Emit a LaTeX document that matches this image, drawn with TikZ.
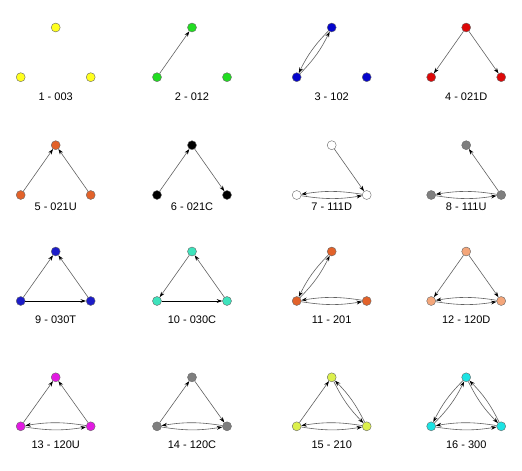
\documentclass[tikz,border=0pt]{standalone}
\usepackage{fontspec}
\setmainfont{Liberation Sans}
\usetikzlibrary{arrows.meta}

\definecolor{yellowv}{HTML}{FFFF1E}
\definecolor{greenv}{HTML}{22DD22}
\definecolor{bluev}{HTML}{0505CC}
\definecolor{redv}{HTML}{DD0808}
\definecolor{orangev}{HTML}{E2622A}
\definecolor{grayv}{HTML}{7F7F7F}
\definecolor{navyv}{HTML}{1C1CC8}
\definecolor{aquav}{HTML}{3EE3BC}
\definecolor{salmonv}{HTML}{F4A67A}
\definecolor{magentav}{HTML}{E21AE2}
\definecolor{limev}{HTML}{DCF04C}
\definecolor{cyanv}{HTML}{1CE3E3}

\begin{document}
\begin{tikzpicture}[x=1pt,y=-1pt]
    \tikzstyle{vert} = [circle, draw=black!60, line width=0.4pt, inner sep=0pt, minimum size=9pt]
    \tikzstyle{line} = [-{Stealth[length=5.5pt,width=3.8pt,color=black]}, draw=black!62, line width=0.6pt]
    \tikzstyle{pair} = [line, bend right=9]
    \tikzstyle{base} = [-{Stealth[length=5.5pt,width=3.8pt]}, draw=black, line width=0.8pt]
    \tikzstyle{caption} = [font=\fontsize{11}{13}\selectfont]

    \useasboundingbox (0,0) rectangle (522,471);

    % first row
    \node(top1) [vert, fill=yellowv] at (55.7,27.5) {};
    \node(left1) [vert, fill=yellowv] at (20.7,77.2) {};
    \node(right1) [vert, fill=yellowv] at (90.7,77.2) {};
    \node(name1) [caption] at (55.7,96.8) {1 - 003};

    \node(top2) [vert, fill=greenv] at (192,27.5) {};
    \node(left2) [vert, fill=greenv] at (157,77.2) {};
    \node(right2) [vert, fill=greenv] at (227,77.2) {};
    \node(name2) [caption] at (192,96.8) {2 - 012};
    \draw[line] (left2) -- (top2);

    \node(top3) [vert, fill=bluev] at (331.7,27.5) {};
    \node(left3) [vert, fill=bluev] at (296.7,77.2) {};
    \node(right3) [vert, fill=bluev] at (366.7,77.2) {};
    \node(name3) [caption] at (331.7,96.8) {3 - 102};
    \draw[pair] (left3) to (top3);
    \draw[pair] (top3) to (left3);

    \node(top4) [vert, fill=redv] at (466.2,27.5) {};
    \node(left4) [vert, fill=redv] at (431.2,77.2) {};
    \node(right4) [vert, fill=redv] at (501.2,77.2) {};
    \node(name4) [caption] at (466.2,96.8) {4 - 021D};
    \draw[line] (top4) -- (left4);
    \draw[line] (top4) -- (right4);

    % second row
    \node(top5) [vert, fill=orangev] at (55.7,145.2) {};
    \node(left5) [vert, fill=orangev] at (20.7,195) {};
    \node(right5) [vert, fill=orangev] at (90.7,195) {};
    \node(name5) [caption] at (55.7,207.2) {5 - 021U};
    \draw[line] (left5) -- (top5);
    \draw[line] (right5) -- (top5);

    \node(top6) [vert, fill=black] at (192,145.2) {};
    \node(left6) [vert, fill=black] at (157,195) {};
    \node(right6) [vert, fill=black] at (227,195) {};
    \node(name6) [caption] at (192,207.2) {6 - 021C};
    \draw[line] (left6) -- (top6);
    \draw[line] (top6) -- (right6);

    \node(top7) [vert, fill=white] at (331.7,145.2) {};
    \node(left7) [vert, fill=white] at (296.7,195) {};
    \node(right7) [vert, fill=white] at (366.7,195) {};
    \node(name7) [caption] at (331.7,207.2) {7 - 111D};
    \draw[line] (top7) -- (right7);
    \draw[pair] (left7) to (right7);
    \draw[pair] (right7) to (left7);

    \node(top8) [vert, fill=grayv] at (466.2,145.2) {};
    \node(left8) [vert, fill=grayv] at (431.2,195) {};
    \node(right8) [vert, fill=grayv] at (501.2,195) {};
    \node(name8) [caption] at (466.2,207.2) {8 - 111U};
    \draw[line] (right8) -- (top8);
    \draw[pair] (left8) to (right8);
    \draw[pair] (right8) to (left8);

    % third row
    \node(top9) [vert, fill=navyv] at (55.7,251.5) {};
    \node(left9) [vert, fill=navyv] at (20.7,301) {};
    \node(right9) [vert, fill=navyv] at (90.7,301) {};
    \node(name9) [caption] at (55.7,320) {9 - 030T};
    \draw[line] (left9) -- (top9);
    \draw[line] (right9) -- (top9);
    \draw[base] (left9) -- (right9);

    \node(top10) [vert, fill=aquav] at (192,251.5) {};
    \node(left10) [vert, fill=aquav] at (157,301) {};
    \node(right10) [vert, fill=aquav] at (227,301) {};
    \node(name10) [caption] at (192,320) {10 - 030C};
    \draw[line] (top10) -- (left10);
    \draw[base] (left10) -- (right10);
    \draw[line] (right10) -- (top10);

    \node(top11) [vert, fill=orangev] at (331.7,251.5) {};
    \node(left11) [vert, fill=orangev] at (296.7,301) {};
    \node(right11) [vert, fill=orangev] at (366.7,301) {};
    \node(name11) [caption] at (331.7,320) {11 - 201};
    \draw[pair] (left11) to (top11);
    \draw[pair] (top11) to (left11);
    \draw[pair] (left11) to (right11);
    \draw[pair] (right11) to (left11);

    \node(top12) [vert, fill=salmonv] at (466.2,251.5) {};
    \node(left12) [vert, fill=salmonv] at (431.2,301) {};
    \node(right12) [vert, fill=salmonv] at (501.2,301) {};
    \node(name12) [caption] at (466.2,320) {12 - 120D};
    \draw[line] (top12) -- (left12);
    \draw[line] (top12) -- (right12);
    \draw[pair] (left12) to (right12);
    \draw[pair] (right12) to (left12);

    % fourth row
    \node(top13) [vert, fill=magentav] at (55.7,377.3) {};
    \node(left13) [vert, fill=magentav] at (20.7,426.3) {};
    \node(right13) [vert, fill=magentav] at (90.7,426.3) {};
    \node(name13) [caption] at (55.7,444.3) {13 - 120U};
    \draw[line] (left13) -- (top13);
    \draw[line] (right13) -- (top13);
    \draw[pair] (left13) to (right13);
    \draw[pair] (right13) to (left13);

    \node(top14) [vert, fill=grayv] at (192,377.3) {};
    \node(left14) [vert, fill=grayv] at (157,426.3) {};
    \node(right14) [vert, fill=grayv] at (227,426.3) {};
    \node(name14) [caption] at (192,444.3) {14 - 120C};
    \draw[line] (left14) -- (top14);
    \draw[line] (top14) -- (right14);
    \draw[pair] (left14) to (right14);
    \draw[pair] (right14) to (left14);

    \node(top15) [vert, fill=limev] at (331.7,377.3) {};
    \node(left15) [vert, fill=limev] at (296.7,426.3) {};
    \node(right15) [vert, fill=limev] at (366.7,426.3) {};
    \node(name15) [caption] at (331.7,444.3) {15 - 210};
    \draw[line] (left15) -- (top15);
    \draw[pair] (top15) to (right15);
    \draw[pair] (right15) to (top15);
    \draw[pair] (left15) to (right15);
    \draw[pair] (right15) to (left15);

    \node(top16) [vert, fill=cyanv] at (466.2,377.3) {};
    \node(left16) [vert, fill=cyanv] at (431.2,426.3) {};
    \node(right16) [vert, fill=cyanv] at (501.2,426.3) {};
    \node(name16) [caption] at (466.2,444.3) {16 - 300};
    \draw[pair] (left16) to (top16);
    \draw[pair] (top16) to (left16);
    \draw[pair] (top16) to (right16);
    \draw[pair] (right16) to (top16);
    \draw[pair] (left16) to (right16);
    \draw[pair] (right16) to (left16);
\end{tikzpicture}
\end{document}
